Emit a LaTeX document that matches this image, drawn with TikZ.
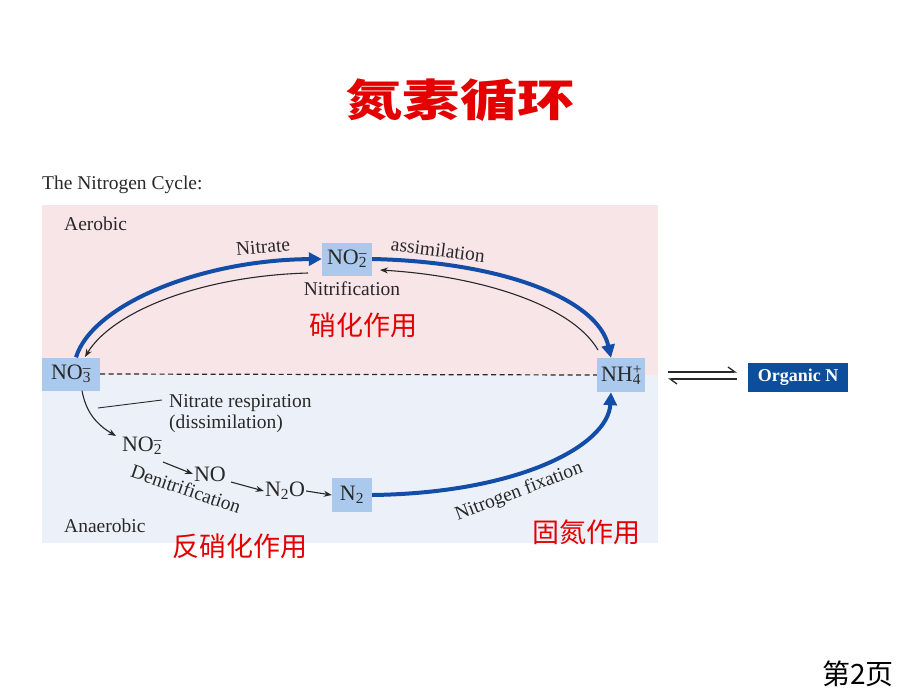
\documentclass[tikz,border=0pt]{standalone}
\usepackage{fontspec}
\setmainfont{Liberation Serif}
\newfontfamily\cjk{Noto Sans CJK SC}
\usetikzlibrary{arrows.meta}
\definecolor{pinkbg}{RGB}{248,229,231}
\definecolor{bluebg}{RGB}{236,241,249}
\definecolor{nodeblue}{RGB}{170,201,236}
\definecolor{orgblue}{RGB}{12,78,156}
\definecolor{arrowblue}{RGB}{18,78,168}
\definecolor{redtxt}{RGB}{228,0,0}
\definecolor{txt}{RGB}{40,40,40}
\newcommand{\ionf}[3]{#1\rlap{\textsuperscript{#3}}\textsubscript{#2}}
\begin{document}
\begin{tikzpicture}[x=1pt,y=-1pt,
  sp/.style={fill=nodeblue, inner sep=0pt, text=txt, font=\fontsize{22}{24}\selectfont},
  lbl/.style={text=txt, inner sep=0pt, font=\fontsize{19.5}{22}\selectfont},
  chem/.style={text=txt, inner sep=1pt, font=\fontsize{22}{24}\selectfont},
  redlbl/.style={text=redtxt, inner sep=0pt, font=\cjk\fontsize{27}{30}\selectfont},
  bigarrow/.style={draw=arrowblue, line width=4pt, -{Triangle[length=13pt,width=13pt]}},
  thinarrow/.style={draw=txt, line width=1.1pt, -{Stealth[length=8pt,width=6pt]}},
  harp/.style={draw=txt, line width=1.3pt, -{Straight Barb[left,length=7pt,width=10pt]}}
]
\fill[white] (0,0) rectangle (920,690);
\fill[pinkbg] (42,205) rectangle (658,375);
\fill[bluebg] (42,375) rectangle (658,543);

% title and page
\node[text=redtxt, inner sep=0pt, font=\cjk\bfseries\fontsize{44}{48}\selectfont, xscale=1.3] (title) at (460,100) {氮素循环};
\node[inner sep=0pt, font=\cjk\fontsize{28}{30}\selectfont] (page) at (858,674) {第2页};

% labels
\node[lbl, anchor=west] (cyc) at (42,185) {The Nitrogen Cycle:};
\node[lbl, anchor=west] (aer) at (64,224) {Aerobic};
\node[lbl, anchor=west] (anaer) at (64,526) {Anaerobic};

% species
\node[sp, minimum width=50, minimum height=33] (no2) at (347,259) {\ionf{NO}{2}{–}};
\node[sp, minimum width=58, minimum height=33] (no3) at (71,374) {\ionf{NO}{3}{–}};
\node[sp, minimum width=48, minimum height=34] (nh4) at (621,375) {\ionf{NH}{4}{+}};
\node[sp, minimum width=40, minimum height=34] (n2) at (352,495) {N\textsubscript{2}};
\node[fill=orgblue, text=white, inner sep=0pt, minimum width=100, minimum height=29,
  font=\bfseries\fontsize{18}{20}\selectfont] (org) at (798,377) {Organic N};

\node[chem] (no2b) at (142,446) {\ionf{NO}{2}{–}};
\node[chem] (no) at (210,474) {NO};
\node[chem] (n2o) at (285,491) {N\textsubscript{2}O};

% dashed boundary
\draw[txt, line width=1.2pt, dash pattern=on 5pt off 3.5pt] (no3.east) -- (nh4.west);

% big blue arrows
\draw[bigarrow] ([xshift=5pt]no3.north) .. controls (92,305) and (200,260) .. (no2.west);
\draw[bigarrow] (no2.east) .. controls (505,262) and (598,300) .. ([xshift=-10pt]nh4.north);
\draw[bigarrow] (n2.east) .. controls (520,493) and (608,445) .. ([xshift=-10pt]nh4.south);

% thin return arrows
\coordinate (nA) at (308,273);
\coordinate (nB) at (85,357);
\draw[thinarrow] (nA) .. controls (200,276) and (112,312) .. (nB);
\coordinate (aA) at (598,350);
\coordinate (aB) at (380,270);
\draw[thinarrow] (aA) .. controls (572,305) and (480,276) .. (aB);

% denitrification chain
\draw[thinarrow] ([xshift=11pt]no3.south) .. controls (86,412) and (96,424) .. (116,436);
\draw[thinarrow] (163,462) -- (no.west);
\draw[thinarrow] (231,482) -- (n2o.west);
\draw[thinarrow] (n2o.east) -- (n2.west);

% label texts
\node[lbl, rotate=5] (nitrate) at (263,247) {Nitrate};
\node[lbl, rotate=-7] (assim) at (438,250) {assimilation};
\node[lbl] (nitrif) at (352,289) {Nitrification};
\node[lbl, anchor=west] (resp) at (169,403) {Nitrate respiration};
\node[lbl, anchor=west] (dissim) at (169,424) {(dissimilation)};
\draw[txt, line width=0.9pt] (98,408) -- (162,400);
\node[lbl, rotate=-19] (denit) at (186,489) {Denitrification};
\node[lbl, rotate=21] (fix) at (519,492) {Nitrogen fixation};

% equilibrium
\coordinate (h1) at (668,372);
\coordinate (h2) at (737,372);
\coordinate (h3) at (737,379);
\coordinate (h4) at (668,379);
\draw[harp] (h1) -- (h2);
\draw[harp] (h3) -- (h4);

% red chinese labels
\node[redlbl] (r1) at (363,325) {硝化作用};
\node[redlbl] (r2) at (240,546) {反硝化作用};
\node[redlbl] (r3) at (586,532) {固氮作用};
\end{tikzpicture}
\end{document}
